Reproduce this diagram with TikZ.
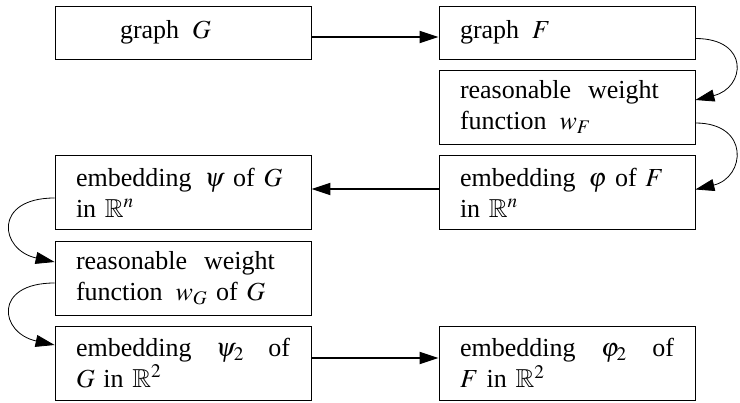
\documentclass[tikz,border=0pt]{standalone}
\usepackage{mathptmx}
\usepackage{amssymb}
\usepackage{fontspec}
\setmainfont{Liberation Serif}
\usetikzlibrary{arrows.meta}
\tikzset{
  boxnode/.style={draw, line width=0.8pt, minimum width=256pt, minimum height=74pt,
    text width=214pt, align=left, inner sep=0pt,
    font=\fontsize{26}{31}\selectfont},
  onebox/.style={boxnode, minimum height=53pt},
  thickarrow/.style={line width=1.8pt, -{Triangle[length=19pt,width=12pt]}},
  curvearrow/.style={line width=0.8pt, -{Triangle[length=19pt,width=12pt]}}
}
\begin{document}
\begin{tikzpicture}[x=1pt,y=-1pt]
\useasboundingbox (0,0) rectangle (740,403);
\node[onebox] (G) at (183,32.5) {\hspace*{44pt}graph\hspace{.5em}$G$};
\node[onebox] (F) at (567,32.5) {graph\hspace{.5em}$F$};
\node[boxnode] (wF) at (567,107) {reasonable\hspace{.65em}weight\\function\hspace{.5em}$w_F$};
\node[boxnode] (phi) at (567,192.5) {embedding\hspace{.5em}$\varphi$ of $F$\\in $\mathbb{R}^n$};
\node[boxnode] (psi) at (183,192.5) {embedding\hspace{.5em}$\psi$ of $G$\\in $\mathbb{R}^n$};
\node[boxnode] (wG) at (183,278) {reasonable\hspace{.65em}weight\\function\hspace{.5em}$w_G$ of $G$};
\node[boxnode] (psitwo) at (183,363) {\hbox to 214pt{embedding\hfil$\psi_2$\hfil of}\\$G$ in $\mathbb{R}^2$};
\node[boxnode] (phitwo) at (567,363) {\hbox to 214pt{embedding\hfil$\varphi_2$\hfil of}\\$F$ in $\mathbb{R}^2$};

\draw[thickarrow] ([yshift=-4.5pt]G.east) -- ([yshift=-4.5pt]F.west);
\draw[thickarrow] ([yshift=3.5pt]phi.west) -- ([yshift=3.5pt]psi.east);
\draw[thickarrow] ([yshift=5pt]psitwo.east) -- ([yshift=5pt]phitwo.west);

\draw[curvearrow] ([yshift=-6pt]F.east) .. controls +(55,0) and +(50,-12) .. ([yshift=7pt]wF.east);
\draw[curvearrow] ([yshift=-16pt]wF.east) .. controls +(55,0) and +(50,-12) .. ([yshift=3pt]phi.east);
\draw[curvearrow] ([yshift=-5.5pt]psi.west) .. controls +(-62,0) and +(-55,-12) .. ([yshift=16pt]wG.west);
\draw[curvearrow] ([yshift=-5pt]wG.west) .. controls +(-62,0) and +(-55,-12) .. ([yshift=18pt]psitwo.west);
\end{tikzpicture}
\end{document}
